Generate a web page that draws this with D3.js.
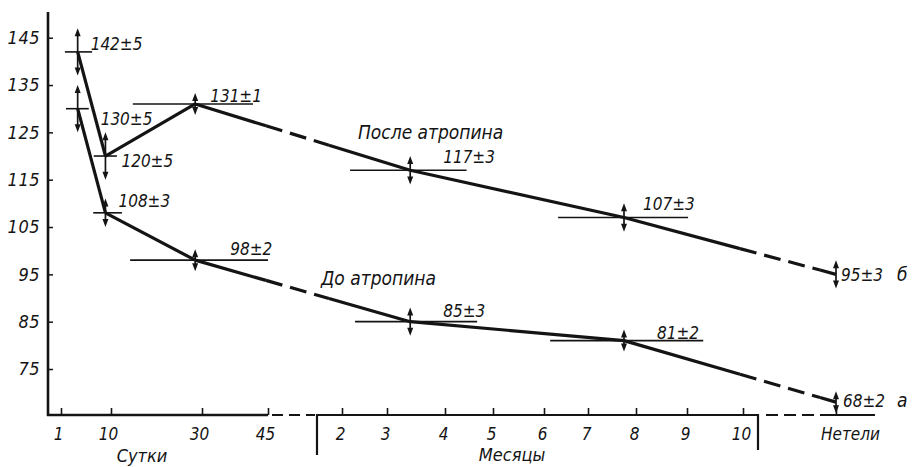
<!DOCTYPE html>
<html>
<head>
<meta charset="utf-8">
<script src="https://cdn.jsdelivr.net/npm/d3@7"></script>
<style>
  html, body { margin: 0; padding: 0; background: #fff; }
  svg { display: block; }
  text {
    font-family: "DejaVu Sans Condensed", "Liberation Sans Narrow", "DejaVu Sans", sans-serif;
    font-style: italic;
    fill: #141414;
  }
</style>
</head>
<body>
<svg id="chart" width="912" height="467"></svg>
<script>
// Tick labels of the three age sections
const dayTicks = [1, 10, 30, 45];
const monthTicks = [2, 3, 4, 5, 6, 7, 8, 9, 10];
const heiferLabel = "Нетели";
const valueTicks = [75, 85, 95, 105, 115, 125, 135, 145];

// Age of each measurement: section and position inside it
const agePeriod = ["day", "day", "day", "month", "month", "heifer"];
const ageValue = [4, 9, 28.5, 3.4, 7.75, 0];

// Age span covered by each group (days or months)
const spanBefore = [[1.9, 6.0], [6.8, 12.4], [14.2, 45], [2.29, 4.67], [6.14, 9.29], null];
const spanAfter = [[1.7, 6.6], [6.9, 11.3], [14.8, 41.6], [2.18, 4.45], [6.32, 9.02], null];

// Heart rate, beats per minute: mean and error
const beforeMean = [130, 108, 98, 85, 81, 68];
const beforeErr = [5, 3, 2, 3, 2, 2];
const afterMean = [142, 120, 131, 117, 107, 95];
const afterErr = [5, 5, 1, 3, 3, 3];

const seriesNames = ["До атропина", "После атропина"];
const seriesLetters = ["а", "б"];
const sectionNames = ["Сутки", "Месяцы"];

// ---- layout ----
const ink = "#141414";
const axisY = 415;
const svg = d3.select("#chart");

const y = d3.scaleLinear().domain([75, 145]).range([369, 37.7]);
const dayX = d3.scaleLinear().domain(dayTicks).range([61, 111, 202, 268]);
const monthX = d3.scaleLinear().domain(monthTicks).range([342, 387, 445, 493, 544, 588, 636, 687, 743]);
const heiferX = d3.scalePoint().domain([heiferLabel]).range([797, 875]).padding(0.5);

function ageX(i) {
  const p = agePeriod[i], v = ageValue[i];
  if (p === "day") return dayX(v);
  if (p === "month") return monthX(v);
  return heiferX(heiferLabel);
}
function spanX(i, s) {
  return agePeriod[i] === "day" ? dayX(s) : monthX(s);
}
function lerpPoint(a, b, t) {
  return [a[0] + (b[0] - a[0]) * t, a[1] + (b[1] - a[1]) * t];
}

// ---- value axis ----
svg.append("line")
  .attr("x1", 48).attr("x2", 48).attr("y1", 12).attr("y2", axisY + 1)
  .attr("stroke", ink).attr("stroke-width", 2.6);

const yAxis = svg.append("g")
  .attr("transform", "translate(48,0)")
  .call(d3.axisLeft(y).tickValues(valueTicks).tickSizeInner(-5).tickSizeOuter(0).tickPadding(8));
yAxis.select(".domain").remove();
yAxis.selectAll(".tick line").attr("stroke", ink).attr("stroke-width", 1.5);
yAxis.selectAll(".tick text").attr("font-size", 18).attr("letter-spacing", 0.5).attr("fill", ink);

// ---- age axis: days ----
svg.append("line")
  .attr("x1", 47).attr("x2", dayX(45)).attr("y1", axisY).attr("y2", axisY)
  .attr("stroke", ink).attr("stroke-width", 2.6);
const dAxis = svg.append("g").attr("transform", `translate(0,${axisY})`)
  .call(d3.axisBottom(dayX).tickValues(dayTicks).tickSizeInner(-7).tickSizeOuter(0).tickPadding(13));
dAxis.select(".domain").remove();

// broken joins between sections
const bracketL = 317, bracketR = 758;
svg.append("line")
  .attr("x1", dayX(45) + 4).attr("x2", bracketL - 2).attr("y1", axisY).attr("y2", axisY)
  .attr("stroke", ink).attr("stroke-width", 2.2).attr("stroke-dasharray", "11,6");

// ---- age axis: months ----
svg.append("path")
  .attr("d", `M${bracketL},455V${axisY}H${bracketR}V450`)
  .attr("fill", "none").attr("stroke", ink).attr("stroke-width", 2.2);
const mAxis = svg.append("g").attr("transform", `translate(0,${axisY})`)
  .call(d3.axisBottom(monthX).tickValues(monthTicks).tickSizeInner(-7).tickSizeOuter(0).tickPadding(13));
mAxis.select(".domain").remove();

// ---- heifers ----
svg.append("line")
  .attr("x1", bracketR + 8).attr("x2", heiferX(heiferLabel) - 6).attr("y1", axisY).attr("y2", axisY)
  .attr("stroke", ink).attr("stroke-width", 2.2).attr("stroke-dasharray", "12,6");
svg.append("line")
  .attr("x1", heiferX(heiferLabel) - 6).attr("x2", 875).attr("y1", axisY).attr("y2", axisY)
  .attr("stroke", ink).attr("stroke-width", 2.2);
const hAxis = svg.append("g").attr("transform", `translate(0,${axisY})`)
  .call(d3.axisBottom(heiferX).tickSizeInner(-7).tickSizeOuter(0).tickPadding(13));
hAxis.select(".domain").remove();
hAxis.selectAll(".tick text").attr("dx", 14);

[dAxis, mAxis, hAxis].forEach(g => {
  g.selectAll(".tick line").attr("stroke", ink).attr("stroke-width", 1.6);
  g.selectAll(".tick text").attr("font-size", 17).attr("fill", ink);
});
dAxis.selectAll(".tick text").attr("dx", -3);
mAxis.selectAll(".tick text").attr("dx", -2);

svg.append("text").attr("x", 142).attr("y", 462).attr("text-anchor", "middle")
  .attr("font-size", 18).text(sectionNames[0]);
svg.append("text").attr("x", 512).attr("y", 461).attr("text-anchor", "middle")
  .attr("font-size", 18).text(sectionNames[1]);

// ---- series ----
const breakZones = [
  [dayX(45) - 2, bracketL + 12],
  [monthX(10) - 3, heiferX(heiferLabel) - 16]
];

function drawSeries(mean, err, span, labelOffsets) {
  const pts = mean.map((v, i) => [ageX(i), y(v)]);
  const g = svg.append("g");

  // span of ages for each group
  span.forEach((s, i) => {
    if (!s) return;
    g.append("line")
      .attr("x1", spanX(i, s[0])).attr("x2", spanX(i, s[1]))
      .attr("y1", y(mean[i])).attr("y2", y(mean[i]))
      .attr("stroke", ink).attr("stroke-width", 1.6);
  });

  // connecting line, dashed where it crosses a break in the age axis
  for (let i = 0; i < pts.length - 1; i++) {
    const a = pts[i], b = pts[i + 1];
    const zone = agePeriod[i] !== agePeriod[i + 1]
      ? breakZones[agePeriod[i] === "day" ? 0 : 1] : null;
    const parts = [];
    if (!zone) {
      parts.push([a, b, false]);
    } else {
      const p1 = lerpPoint(a, b, (zone[0] - a[0]) / (b[0] - a[0]));
      const p2 = lerpPoint(a, b, (zone[1] - a[0]) / (b[0] - a[0]));
      parts.push([a, p1, false], [p1, p2, true], [p2, b, false]);
    }
    parts.forEach(([p, q, dashed]) => {
      g.append("line")
        .attr("x1", p[0]).attr("y1", p[1]).attr("x2", q[0]).attr("y2", q[1])
        .attr("stroke", ink).attr("stroke-width", 3.2)
        .attr("stroke-dasharray", dashed ? "17,8" : null);
    });
  }

  // error arrows
  pts.forEach((p, i) => {
    const half = Math.max(y(mean[i] - err[i]) - y(mean[i]), 11);
    const top = p[1] - half, bot = p[1] + half;
    g.append("line")
      .attr("x1", p[0]).attr("x2", p[0]).attr("y1", top + 5).attr("y2", bot - 5)
      .attr("stroke", ink).attr("stroke-width", 1.7);
    g.append("path")
      .attr("d", `M${p[0]},${top}l-3,8h6z M${p[0]},${bot}l-3,-8h6z`)
      .attr("fill", ink);
  });

  // value labels
  pts.forEach((p, i) => {
    g.append("text")
      .attr("x", p[0] + labelOffsets[i][0]).attr("y", p[1] + labelOffsets[i][1])
      .attr("font-size", 17)
      .text(`${mean[i]}±${err[i]}`);
  });
  return pts;
}

const beforePts = drawSeries(beforeMean, beforeErr, spanBefore,
  [[23, 16], [13, -6], [35, -5], [33, -5], [33, -2], [7, 5]]);
const afterPts = drawSeries(afterMean, afterErr, spanAfter,
  [[13, -2], [16, 11], [15, -2], [33, -7], [19, -8], [5, 7]]);

// series names and letters
svg.append("text").attr("x", 321).attr("y", 285).attr("font-size", 19).text(seriesNames[0]);
svg.append("text").attr("x", 358).attr("y", 139).attr("font-size", 19).text(seriesNames[1]);
svg.append("text").attr("x", 897).attr("y", beforePts[5][1] + 5).attr("font-size", 19).text(seriesLetters[0]);
svg.append("text").attr("x", 897).attr("y", afterPts[5][1] + 7).attr("font-size", 19).text(seriesLetters[1]);
</script>
</body>
</html>
